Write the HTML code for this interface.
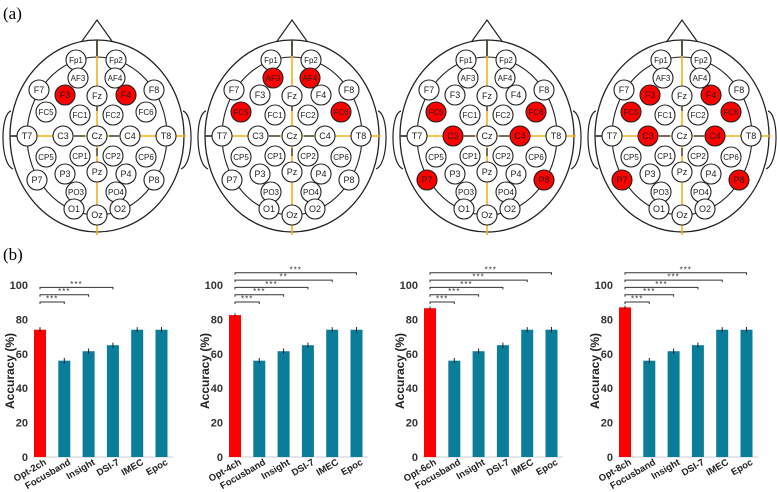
<!DOCTYPE html>
<html><head><meta charset="utf-8"><style>
body{margin:0;background:#fff;}
svg{display:block;font-family:"Liberation Sans",Arial,sans-serif;}
</style></head><body>
<svg id="fig" width="777" height="492" viewBox="0 0 777 492" xmlns="http://www.w3.org/2000/svg">
<text x="3" y="19" font-family="Liberation Serif,serif" font-size="17">(a)</text>
<text x="3" y="260" font-family="Liberation Serif,serif" font-size="17">(b)</text>
<g id="heads"></g>
<g id="charts"></g>
</svg>
<script>
const NS="http://www.w3.org/2000/svg";
function mk(tag,attrs,parent){const e=document.createElementNS(NS,tag);for(const k in attrs)e.setAttribute(k,attrs[k]);parent.appendChild(e);return e;}

const electrodes=[["Fp1",-21,-76],["Fp2",19,-76],["AF3",-19,-58],["AF4",18,-58],["F7",-58,-46],["F3",-32,-41],["Fz",0,-40],["F4",29,-41],["F8",57,-46],
["FC5",-51,-24],["FC1",-17,-21],["FC2",16,-21],["FC6",49,-24],["T7",-70,0],["C3",-34,0],["Cz",0,0],["C4",33,0],["T8",69,0],
["CP5",-51,21],["CP1",-17,20],["CP2",16,20],["CP6",49,21],["P7",-60,44],["P3",-32,38],["Pz",0,36],["P4",29,38],["P8",57,44],
["PO3",-21,56],["PO4",19,56],["O1",-23,73],["Oz",0,79],["O2",23,73]];
const headOffsets=[0,195,390,585];
const redSets=[["F3","F4"],["AF3","AF4","FC5","FC6"],["FC5","FC6","C3","C4","P7","P8"],["F3","F4","FC5","FC6","C3","C4","P7","P8"]];
const heads=document.getElementById('heads');
headOffsets.forEach((off,hi)=>{
  const cx=97+off, cy=136;
  const g=mk('g',{},heads);
  
  
  mk('path',{d:`M${cx-17} ${cy-92} L${cx} ${cy-116} L${cx+17} ${cy-92}`,fill:'none',stroke:'#222','stroke-width':1.2},g);
  mk('path',{d:`M${cx-86} ${cy-25} C${cx-97} ${cy-22} ${cx-97} ${cy+28} ${cx-84} ${cy+33}`,fill:'none',stroke:'#222','stroke-width':1.2},g);
  mk('path',{d:`M${cx+86} ${cy-25} C${cx+97} ${cy-22} ${cx+97} ${cy+28} ${cx+84} ${cy+33}`,fill:'none',stroke:'#222','stroke-width':1.2},g);
  mk('ellipse',{cx:cx,cy:cy,rx:87,ry:96,fill:'#fff',stroke:'#222','stroke-width':1.3},g);
  mk('ellipse',{cx:cx,cy:cy,rx:70,ry:79,fill:'none',stroke:'#222','stroke-width':1.1},g);
  mk('line',{x1:cx,y1:cy-96,x2:cx,y2:cy+99,stroke:'#f2b21a','stroke-width':1.6},g);
  mk('line',{x1:cx-87,y1:cy,x2:cx+89,y2:cy,stroke:'#f2b21a','stroke-width':1.6},g);
  mk('line',{x1:cx,y1:cy-96,x2:cx,y2:cy-80,stroke:'#333','stroke-width':1.6},g);
  mk('line',{x1:cx,y1:cy-33,x2:cx,y2:cy-25,stroke:'#555','stroke-width':1.6},g);
  mk('line',{x1:cx,y1:cy+12,x2:cx,y2:cy+20,stroke:'#555','stroke-width':1.6},g);
  mk('line',{x1:cx-87,y1:cy,x2:cx-80,y2:cy,stroke:'#333','stroke-width':1.6},g);
  mk('line',{x1:cx-23,y1:cy,x2:cx-12,y2:cy,stroke:'#555','stroke-width':1.6},g);
  mk('line',{x1:cx+12,y1:cy,x2:cx+22,y2:cy,stroke:'#555','stroke-width':1.6},g);
  electrodes.forEach(([n,dx,dy])=>{
    const red=redSets[hi].includes(n);
    const c=mk('circle',{cx:cx+dx,cy:cy+dy,r:10,fill:red?'#f00':'#fff',stroke:'#222','stroke-width':1.1},g);
    
    
    const t=mk('text',{x:cx+dx,y:cy+dy+3.2,'text-anchor':'middle','font-size':n.length>2?8:9,fill:'#222'},g);
    t.textContent=n;
    
    
  });
});

const categories=["Focusband","Insight","DSI-7","IMEC","Epoc"];
const optLabels=["Opt-2ch","Opt-4ch","Opt-6ch","Opt-8ch"];
const optValues=[74,82.5,86.5,87];
const optErrors=[1.5,1,1,1];
const otherValues=[56,61.5,65,74,74];
const otherErrors=[1.6,1.6,1.5,1.5,1.6];
const yTicks=[0,20,40,60,80,100];
const sigLabels=[["***","***","***"],["***","***","***","**","***"],["***","***","***","***","***"],["***","***","***","***","***"]];
const chartOffsets=[0,195,390,585];

const charts=document.getElementById('charts');
chartOffsets.forEach((off,ci)=>{
  const g=mk('g',{},charts);
  
  
  const y0=457,y100=285;
  const ys=v=>y0-(v/100)*(y0-y100);
  const xs=i=>off+40+i*24.3;
  const bw=12;
  mk('line',{x1:off+33,y1:y0,x2:off+173,y2:y0,stroke:'#ccc','stroke-width':1},g);
  yTicks.forEach(t=>{
    const tx=mk('text',{x:off+28,y:ys(t)+4,'text-anchor':'end','font-size':11,'font-weight':'bold',fill:'#333'},g);
    tx.textContent=t;
    
    
  });
  const yl=mk('text',{x:0,y:0,'text-anchor':'middle','font-size':12,'font-weight':'bold',fill:'#222',transform:`translate(${off+14},${(y0+y100)/2}) rotate(-90)`},g);
  yl.textContent='Accuracy (%)';
  
  
  const vals=[optValues[ci]].concat(otherValues);
  const errs=[optErrors[ci]].concat(otherErrors);
  const labs=[optLabels[ci]].concat(categories);
  vals.forEach((v,i)=>{
    const r=mk('rect',{x:xs(i)-bw/2,y:ys(v),width:bw,height:y0-ys(v),fill:i===0?'#ff0000':'#0a7d9a'},g);
    
    
    const e=mk('line',{x1:xs(i),x2:xs(i),y1:ys(v+errs[i]),y2:ys(v-errs[i]),stroke:'#222','stroke-width':1},g);
    
    
    const t=mk('text',{x:0,y:0,'text-anchor':'end','font-size':9.5,'font-weight':'bold',fill:'#222',transform:`translate(${xs(i)+7},${y0+7}) rotate(-30)`},g);
    t.textContent=labs[i];
    
    
  });
  sigLabels[ci].forEach((s,k)=>{
    const ly=302-k*7.3;
    const x2=xs(k+1);
    mk('path',{d:`M${xs(0)} ${ly+2} V${ly} H${x2} V${ly+2}`,fill:'none',stroke:'#333','stroke-width':1},g);
    const t=mk('text',{x:(xs(0)+x2)/2,y:ly-0.5,'text-anchor':'middle','font-size':8,fill:'#333','letter-spacing':'1'},g);
    t.textContent=s;
    
    
  });
});
</script>
</body></html>
